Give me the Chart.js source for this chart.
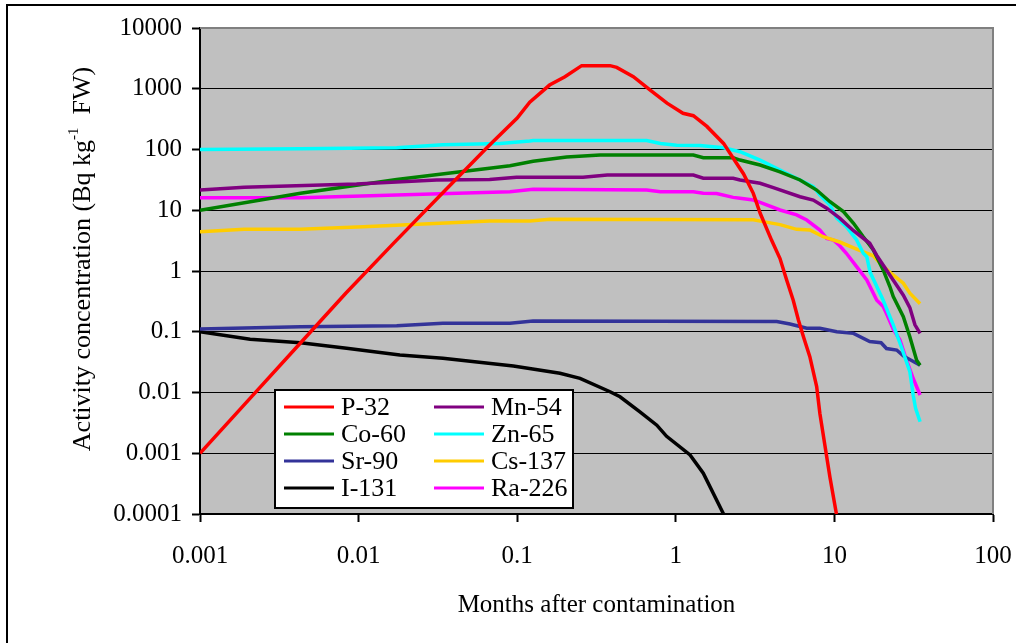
<!DOCTYPE html>
<html>
<head>
<meta charset="utf-8">
<title>Activity concentration after contamination</title>
<script src="https://cdn.jsdelivr.net/npm/chart.js@4.4.1/dist/chart.umd.min.js"></script>
<style>
  html, body { margin: 0; padding: 0; background: #ffffff; }
  canvas { display: block; }
</style>
</head>
<body>
<canvas id="chart" width="1016" height="643"></canvas>
<script>
// Axis ticks (log decades) and their printed labels
const xTickValues = [0.001, 0.01, 0.1, 1, 10, 100];
const xTickLabels = ['0.001', '0.01', '0.1', '1', '10', '100'];
const yTickValues = [0.0001, 0.001, 0.01, 0.1, 1, 10, 100, 1000, 10000];
const yTickLabels = ['0.0001', '0.001', '0.01', '0.1', '1', '10', '100', '1000', '10000'];

// Radionuclides
const seriesNames = ['P-32', 'Mn-54', 'Co-60', 'Zn-65', 'Sr-90', 'Cs-137', 'I-131', 'Ra-226'];
const seriesColors = ['#ff0000', '#800080', '#008000', '#00ffff', '#333399', '#ffcc00', '#000000', '#ff00ff'];

// Months after contamination / activity concentration (Bq kg-1 FW)
const p32Months   = [0.001, 0.002, 0.0042, 0.0083, 0.0167, 0.033, 0.066, 0.1, 0.12, 0.16, 0.2, 0.255, 0.385, 0.424, 0.54, 0.69, 0.88, 1.11, 1.29, 1.57, 2.0, 2.42, 2.67, 3.08, 3.4, 4.02, 4.54, 5.0, 5.5, 5.93, 6.38, 7.0, 7.73, 8.1, 8.73, 9.38, 10.3];
const p32Activity = [0.001, 0.0073, 0.061, 0.43, 2.9, 18, 114, 330, 600, 1150, 1580, 2400, 2400, 2250, 1580, 950, 580, 395, 360, 240, 126, 59, 40, 19, 9, 3.2, 1.6, 0.71, 0.33, 0.156, 0.083, 0.039, 0.0125, 0.0045, 0.0013, 0.0004, 0.0001];

const mn54Months   = [0.001, 0.0019, 0.0097, 0.031, 0.067, 0.099, 0.26, 0.37, 1.29, 1.49, 2.3, 2.54, 3.4, 4.12, 6.07, 7.36, 8.94, 10.8, 13.2, 16.7, 18.5, 22.4, 27.2, 29.9, 32.2, 34.7];
const mn54Activity = [21.5, 24, 27, 31.5, 32, 35, 35, 38, 38, 33.6, 33.6, 31.5, 27.8, 23.5, 16.7, 14.7, 10.8, 7.4, 4.6, 2.86, 1.8, 0.85, 0.4, 0.25, 0.13, 0.094];

const co60Months   = [0.001, 0.0043, 0.0174, 0.09, 0.126, 0.205, 0.333, 1.29, 1.49, 2.3, 2.54, 3.4, 4.54, 6.07, 7.73, 9.38, 11.4, 13.2, 15.2, 17.6, 20.3, 22.4, 23.5, 27.2, 29.9, 33, 34.7];
const co60Activity = [10, 19, 32, 54, 64, 75, 81, 81, 73, 73, 67, 55.6, 43, 31.5, 21.5, 13.8, 9.5, 6.1, 3.67, 2.22, 1.04, 0.55, 0.38, 0.177, 0.083, 0.034, 0.028];

const zn65Months   = [0.001, 0.0043, 0.0174, 0.034, 0.078, 0.12, 0.126, 0.655, 0.8, 1.01, 1.42, 2.0, 2.54, 3.4, 4.54, 6.07, 7.36, 8.1, 9.38, 10.35, 11.9, 13.8, 15.2, 16.0, 16.8, 20.3, 23.5, 26.5, 29.9, 31.4, 32.5, 34.7];
const zn65Activity = [100, 103, 107, 120, 126, 138, 140, 140, 126, 118, 116, 107, 92, 67, 46, 31.5, 24.4, 17.8, 12.2, 7.4, 5.37, 3.24, 1.96, 1.72, 0.95, 0.33, 0.13, 0.055, 0.022, 0.009, 0.0055, 0.0033];

const sr90Months   = [0.001, 0.0043, 0.0174, 0.034, 0.09, 0.126, 4.33, 5.25, 6.69, 8.1, 10.35, 13.2, 16.7, 19.7, 21.3, 24.7, 27.2, 34.7];
const sr90Activity = [0.111, 0.121, 0.126, 0.138, 0.138, 0.15, 0.147, 0.134, 0.114, 0.114, 0.1, 0.094, 0.069, 0.066, 0.053, 0.05, 0.04, 0.028];

const cs137Months   = [0.001, 0.0019, 0.0043, 0.0107, 0.0326, 0.067, 0.12, 0.161, 3.08, 3.56, 4.54, 5.78, 7.0, 8.5, 10.8, 13.8, 17.6, 19.4, 22.4, 27.2, 29.9, 34.7];
const cs137Activity = [4.44, 4.85, 4.85, 5.37, 6.1, 6.65, 6.65, 7.1, 7.0, 6.5, 5.8, 4.85, 4.75, 3.67, 3.0, 2.3, 1.78, 1.34, 0.95, 0.63, 0.43, 0.29];

const i131Months   = [0.001, 0.00207, 0.0043, 0.0084, 0.0182, 0.034, 0.0946, 0.186, 0.249, 0.385, 0.445, 0.594, 0.759, 0.875, 1.23, 1.49, 2.0];
const i131Activity = [0.1, 0.075, 0.066, 0.0534, 0.0414, 0.0366, 0.0273, 0.0207, 0.0171, 0.0103, 0.0085, 0.0048, 0.0029, 0.0019, 0.00094, 0.00047, 0.0001];

const ra226Months   = [0.001, 0.0043, 0.09, 0.126, 0.655, 0.8, 1.29, 1.49, 1.81, 2.3, 2.54, 3.08, 3.4, 4.54, 5.78, 6.69, 8.1, 8.94, 9.85, 10.8, 11.9, 13.8, 16.0, 16.8, 18.5, 20.3, 21.3, 23.5, 25.9, 28.5, 31.4, 34.7];
const ra226Activity = [16.1, 16.1, 20.2, 22.1, 21.5, 20.2, 20.2, 19, 18.8, 16.3, 15.7, 14.7, 13.5, 10.1, 8.4, 6.9, 4.73, 3.45, 3.24, 2.6, 1.96, 1.18, 0.71, 0.55, 0.33, 0.26, 0.2, 0.11, 0.073, 0.034, 0.017, 0.0091];

const monthsBySeries   = [p32Months, mn54Months, co60Months, zn65Months, sr90Months, cs137Months, i131Months, ra226Months];
const activityBySeries = [p32Activity, mn54Activity, co60Activity, zn65Activity, sr90Activity, cs137Activity, i131Activity, ra226Activity];

const SERIF = '"Liberation Serif", "Times New Roman", serif';

const datasets = seriesNames.map((name, i) => ({
  label: name,
  data: monthsBySeries[i].map((m, k) => ({ x: m, y: activityBySeries[i][k] })),
  borderColor: seriesColors[i],
  backgroundColor: seriesColors[i],
  borderWidth: 3.5,
  pointRadius: 0,
  tension: 0,
  fill: false
}));

// Grey plot area, white page
const plotBackground = {
  id: 'plotBackground',
  beforeDraw(chart) {
    const { ctx, chartArea: a } = chart;
    ctx.save();
    ctx.fillStyle = '#ffffff';
    ctx.fillRect(0, 0, chart.width, chart.height);
    ctx.fillStyle = '#c0c0c0';
    ctx.fillRect(a.left, a.top, a.right - a.left, a.bottom - a.top);
    ctx.restore();
  },
  beforeDatasetsDraw(chart) {
    const { ctx, chartArea: a } = chart;
    ctx.save();
    ctx.strokeStyle = '#808080';
    ctx.lineWidth = 2;
    ctx.beginPath();
    ctx.moveTo(a.left, a.top);
    ctx.lineTo(a.right, a.top);
    ctx.lineTo(a.right, a.bottom);
    ctx.stroke();
    ctx.restore();
  }
};

// Outer frame, rotated y title with superscript, boxed two-column legend
const decorations = {
  id: 'decorations',
  afterDraw(chart) {
    const { ctx, chartArea: a } = chart;
    ctx.save();

    ctx.strokeStyle = '#000000';
    ctx.lineWidth = 2;
    ctx.strokeRect(7, 5, 1020, 650);

    // y-axis title
    ctx.translate(83, 259);
    ctx.rotate(-Math.PI / 2);
    ctx.fillStyle = '#000000';
    ctx.textBaseline = 'middle';
    ctx.textAlign = 'left';
    const part1 = 'Activity concentration (Bq kg';
    const sup = '-1';
    const part2 = '  FW)';
    ctx.font = '26px ' + SERIF;
    const w1 = ctx.measureText(part1).width;
    const w3 = ctx.measureText(part2).width;
    ctx.font = '15px ' + SERIF;
    const w2 = ctx.measureText(sup).width;
    let x = -(w1 + w2 + w3) / 2;
    ctx.font = '26px ' + SERIF;
    ctx.fillText(part1, x, 0);
    ctx.font = '15px ' + SERIF;
    ctx.fillText(sup, x + w1, -9);
    ctx.font = '26px ' + SERIF;
    ctx.fillText(part2, x + w1 + w2, 0);
    ctx.setTransform(1, 0, 0, 1, 0, 0);

    // legend
    const lx = a.left + 75, ly = a.top + 362, lw = 298, lh = 118;
    ctx.fillStyle = '#ffffff';
    ctx.fillRect(lx, ly, lw, lh);
    ctx.strokeStyle = '#000000';
    ctx.lineWidth = 2;
    ctx.strokeRect(lx, ly, lw, lh);
    ctx.font = '26px ' + SERIF;
    ctx.textBaseline = 'middle';
    ctx.textAlign = 'left';
    chart.data.datasets.forEach((ds, i) => {
      const col = i % 2, row = Math.floor(i / 2);
      const cy = ly + 17 + row * 27;
      const sx = lx + 9 + col * 150;
      ctx.strokeStyle = ds.borderColor;
      ctx.lineWidth = 3;
      ctx.beginPath();
      ctx.moveTo(sx, cy);
      ctx.lineTo(sx + 50, cy);
      ctx.stroke();
      ctx.fillStyle = '#000000';
      ctx.fillText(ds.label, sx + 57, cy + 1);
    });
    ctx.restore();
  }
};

new Chart(document.getElementById('chart'), {
  type: 'line',
  data: { datasets },
  options: {
    responsive: false,
    animation: false,
    devicePixelRatio: 1,
    layout: { padding: { left: 0, right: 23, top: 28, bottom: 0 } },
    plugins: {
      legend: { display: false },
      tooltip: { enabled: false },
      title: { display: false }
    },
    scales: {
      x: {
        type: 'logarithmic',
        min: 0.001,
        max: 100,
        afterBuildTicks(scale) { scale.ticks = xTickValues.map(v => ({ value: v })); },
        afterFit(scale) { scale.height = 129; scale.paddingLeft = 0; scale.paddingRight = 0; },
        ticks: {
          autoSkip: false,
          maxRotation: 0,
          padding: 19,
          color: '#000000',
          font: { family: SERIF, size: 25 },
          callback: (v) => xTickLabels[xTickValues.findIndex(t => Math.abs(Math.log10(t) - Math.log10(v)) < 1e-6)]
        },
        grid: { drawOnChartArea: false, drawTicks: true, tickLength: 8, tickWidth: 2, tickColor: '#000000' },
        border: { display: true, color: '#000000', width: 2 },
        title: {
          display: true,
          text: 'Months after contamination',
          color: '#000000',
          font: { family: SERIF, size: 25 },
          padding: { top: 0, bottom: 23 }
        }
      },
      y: {
        type: 'logarithmic',
        min: 0.0001,
        max: 10000,
        afterBuildTicks(scale) { scale.ticks = yTickValues.map(v => ({ value: v })); },
        afterFit(scale) { scale.width = 200; scale.paddingTop = 0; scale.paddingBottom = 0; },
        ticks: {
          autoSkip: false,
          padding: 10,
          color: '#000000',
          font: { family: SERIF, size: 25 },
          callback: (v) => yTickLabels[yTickValues.findIndex(t => Math.abs(Math.log10(t) - Math.log10(v)) < 1e-6)]
        },
        grid: { color: '#000000', lineWidth: 1, drawTicks: true, tickLength: 8, tickWidth: 2, tickColor: '#000000' },
        border: { display: true, color: '#000000', width: 2 }
      }
    }
  },
  plugins: [plotBackground, decorations]
});
</script>
</body>
</html>
